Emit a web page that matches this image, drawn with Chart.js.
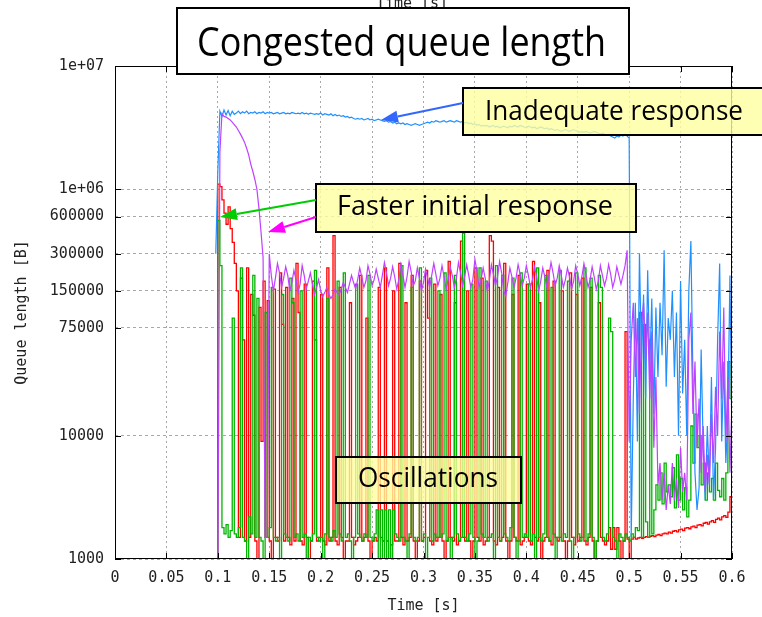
<!DOCTYPE html>
<html lang="en">
<head>
<meta charset="UTF-8" />
<title>Congested queue length</title>
<script src="https://cdn.jsdelivr.net/npm/chart.js@4.4.0/dist/chart.umd.min.js"></script>
<style>
  html, body { margin: 0; padding: 0; background: #fff; }
  #wrap { width: 762px; height: 617px; }
</style>
</head>
<body>
<div id="wrap"><canvas id="queueChart" width="762" height="617"></canvas></div>
<script>
// sampling of the traces: one point every 2 ms starting at t = 0.098 s
const tStart = 0.098;
const tStep = 0.002;

// axis ticks
const xTickValues = [0, 0.05, 0.1, 0.15, 0.2, 0.25, 0.3, 0.35, 0.4, 0.45, 0.5, 0.55, 0.6];
const xTickLabels = ['0', '0.05', '0.1', '0.15', '0.2', '0.25', '0.3', '0.35', '0.4', '0.45', '0.5', '0.55', '0.6'];
const yTickValues = [1000, 10000, 75000, 150000, 300000, 600000, 1000000, 10000000];
const yTickLabels = ['1000', '10000', '75000', '150000', '300000', '600000', '1e+06', '1e+07'];

// queue length [B] (values below 1000 fall under the axis)
const blueQ = [
  300000, 1400000, 4300000, 3900000, 4400000, 4000000, 4350000, 3950000, 4300000, 4050000, // 0.098
  4150000, 4300000, 4100000, 4250000, 4150000, 4300000, 4100000, 4200000, 4150000, 4250000, // 0.118
  4100000, 4200000, 4150000, 4250000, 4100000, 4200000, 4150000, 4200000, 4100000, 4150000, // 0.138
  4200000, 4100000, 4150000, 4200000, 4100000, 4150000, 4100000, 4200000, 4150000, 4100000, // 0.158
  4150000, 4100000, 4200000, 4100000, 4150000, 4050000, 4150000, 4100000, 4050000, 4100000, // 0.178
  4050000, 4150000, 4000000, 4100000, 4050000, 4000000, 4100000, 3950000, 4050000, 3950000, // 0.198
  4000000, 3900000, 3950000, 3850000, 3900000, 3800000, 3850000, 3750000, 3700000, 3750000, // 0.218
  3700000, 3750000, 3650000, 3700000, 3750000, 3650000, 3700000, 3600000, 3650000, 3700000, // 0.238
  3650000, 3600000, 3550000, 3600000, 3500000, 3550000, 3450000, 3500000, 3400000, 3450000, // 0.258
  3400000, 3450000, 3350000, 3400000, 3350000, 3300000, 3350000, 3400000, 3350000, 3300000, // 0.278
  3350000, 3400000, 3450000, 3500000, 3450000, 3550000, 3500000, 3600000, 3550000, 3500000, // 0.298
  3550000, 3600000, 3500000, 3550000, 3600000, 3550000, 3500000, 3600000, 3550000, 3500000, // 0.318
  3550000, 3450000, 3500000, 3400000, 3450000, 3350000, 3400000, 3300000, 3350000, 3250000, // 0.338
  3300000, 3250000, 3300000, 3200000, 3250000, 3300000, 3200000, 3250000, 3150000, 3200000, // 0.358
  3250000, 3200000, 3150000, 3250000, 3200000, 3300000, 3250000, 3200000, 3300000, 3250000, // 0.378
  3200000, 3150000, 3250000, 3200000, 3150000, 3200000, 3100000, 3150000, 3200000, 3150000, // 0.398
  3100000, 3150000, 3050000, 3100000, 3050000, 3000000, 3050000, 3000000, 2950000, 3000000, // 0.418
  3050000, 3000000, 2950000, 3000000, 3050000, 3000000, 2950000, 2900000, 2950000, 2900000, // 0.438
  2950000, 2900000, 2850000, 2900000, 2950000, 2900000, 2850000, 2800000, 2850000, 2800000, // 0.458
  2750000, 2800000, 2700000, 2650000, 2600000, 2700000, 2650000, 2750000, 2700000, 2800000, // 0.478
  2700000, 2600000, 1500, 20000, 120000, 9000, 300000, 40000, 140000, 20000,               // 0.498
  220000, 35000, 130000, 15000, 110000, 30000, 120000, 45000, 320000, 25000,               // 0.518
  90000, 60000, 150000, 30000, 100000, 10000, 180000, 22000, 60000, 10000,                 // 0.538
  150000, 380000, 30000, 5000, 2500, 3800, 50000, 8000, 3000, 12000,                       // 0.558
  4000, 30000, 3000, 8000, 60000, 250000, 9000, 40000, 6000, 15000,                        // 0.578
  200000, 8000                                                                             // 0.598
];

const purpleQ = [
  600, 600, 2000000, 4100000, 3900000, 3850000, 3750000, 3650000, 3500000, 3350000,         // 0.098
  3200000, 3000000, 2800000, 2600000, 2400000, 2150000, 1900000, 1600000, 1400000, 1200000, // 0.118
  1000000, 700000, 450000, 280000, 1500, 1500, 300000, 200000, 150000, 190000,             // 0.138
  250000, 210000, 160000, 190000, 235000, 200000, 150000, 175000, 220000, 185000,          // 0.158
  145000, 170000, 240000, 200000, 155000, 180000, 210000, 170000, 140000, 160000,          // 0.178
  185000, 150000, 135000, 145000, 160000, 140000, 130000, 140000, 155000, 145000,          // 0.198
  140000, 155000, 175000, 160000, 145000, 170000, 200000, 175000, 155000, 185000,          // 0.218
  230000, 195000, 160000, 180000, 240000, 205000, 165000, 185000, 225000, 190000,          // 0.238
  160000, 200000, 255000, 210000, 165000, 190000, 235000, 195000, 155000, 185000,          // 0.258
  245000, 200000, 160000, 195000, 260000, 215000, 165000, 180000, 230000, 190000,          // 0.278
  150000, 175000, 225000, 190000, 160000, 200000, 250000, 205000, 165000, 190000,          // 0.298
  240000, 195000, 155000, 185000, 235000, 200000, 160000, 190000, 255000, 210000,          // 0.318
  165000, 195000, 245000, 200000, 160000, 185000, 270000, 215000, 160000, 185000,          // 0.338
  230000, 190000, 150000, 180000, 245000, 205000, 165000, 195000, 260000, 210000,          // 0.358
  150000, 135000, 175000, 230000, 195000, 160000, 190000, 245000, 205000, 165000,          // 0.378
  190000, 240000, 200000, 160000, 185000, 235000, 195000, 150000, 180000, 230000,          // 0.398
  195000, 160000, 200000, 255000, 210000, 165000, 190000, 240000, 200000, 160000,          // 0.418
  185000, 230000, 195000, 155000, 180000, 240000, 205000, 165000, 195000, 250000,          // 0.438
  205000, 160000, 185000, 235000, 195000, 155000, 180000, 240000, 200000, 165000,          // 0.458
  190000, 245000, 205000, 160000, 185000, 235000, 200000, 170000, 200000, 240000,          // 0.478
  320000, 9000, 60000, 120000, 30000, 90000, 15000, 80000, 120000, 40000,                  // 0.498
  100000, 20000, 70000, 8000, 30000, 4000, 6000, 3000, 5000, 2500,                         // 0.518
  4000, 2800, 6000, 3000, 4500, 2600, 8000, 3500, 5000, 3000,                              // 0.538
  60000, 100000, 15000, 40000, 8000, 20000, 5000, 12000, 3500, 7000,                       // 0.558
  4000, 15000, 6000, 25000, 10000, 70000, 20000, 110000, 9000, 30000,                      // 0.578
  5000, 20000                                                                              // 0.598
];

const redQ = [
  600, 1100000, 1050000, 820000, 640000, 520000, 720000, 480000, 370000, 250000,           // 0.098
  150000, 1500, 190000, 60000, 1400, 230000, 1500, 140000, 95000, 1400,                    // 0.118
  600, 110000, 9000, 180000, 1500, 125000, 1400, 600, 155000, 1500,                        // 0.138
  1400, 210000, 80000, 1400, 160000, 1500, 1300, 130000, 1400, 250000,                     // 0.158
  100000, 1400, 1300, 170000, 1500, 600, 1400, 180000, 60000, 1400,                        // 0.178
  1500, 140000, 1400, 1300, 230000, 1400, 1500, 420000, 1400, 1300,                        // 0.198
  160000, 1500, 600, 1400, 1400, 120000, 1500, 1300, 1400, 1500,                           // 0.218
  200000, 1400, 1500, 90000, 1400, 600, 1400, 1500, 1400, 160000,                          // 0.238
  1500, 1400, 230000, 1400, 600, 1300, 150000, 1400, 1400, 250000,                         // 0.258
  1500, 1300, 120000, 1400, 1500, 200000, 1400, 600, 1400, 180000,                         // 0.278
  1400, 1500, 220000, 90000, 1400, 1300, 170000, 1400, 1500, 140000,                       // 0.298
  1400, 600, 1400, 260000, 1500, 1400, 120000, 1300, 1400, 380000,                         // 0.318
  1500, 1400, 150000, 1400, 600, 1400, 230000, 1500, 1400, 190000,                         // 0.338
  1300, 1400, 1500, 420000, 380000, 1400, 1300, 160000, 1400, 1500,                        // 0.358
  250000, 1400, 600, 1400, 140000, 1500, 1400, 200000, 1300, 1400,                         // 0.378
  1500, 170000, 1400, 1300, 260000, 1500, 1400, 120000, 600, 1400,                         // 0.398
  1500, 220000, 1400, 1300, 180000, 1500, 1400, 1500, 150000, 1400,                        // 0.418
  600, 1400, 210000, 1500, 1300, 140000, 1400, 1500, 190000, 1400,                         // 0.438
  1300, 1500, 160000, 1400, 600, 1400, 120000, 1500, 1400, 1300,                           // 0.458
  1400, 1800, 1200, 1800, 1200, 1800, 1400, 600, 1400, 70000,                              // 0.478
  1450, 600, 1450, 1500, 1450, 1480, 1500, 1470, 1500, 1520,                               // 0.498
  1500, 1530, 1550, 1520, 1560, 1580, 1550, 1600, 1620, 1600,                              // 0.518
  1650, 1620, 1680, 1700, 1660, 1720, 1750, 1700, 1780, 1800,                              // 0.538
  1760, 1820, 1850, 1800, 1880, 1900, 1860, 1950, 1980, 1920,                              // 0.558
  2000, 2050, 1980, 2100, 2150, 2080, 2200, 2250, 2180, 2400,                              // 0.578
  3200, 2500                                                                               // 0.598
];

const greenQ = [
  600, 560000, 240000, 1800, 1600, 1900, 1500, 1700, 90000, 1600,                          // 0.098
  1500, 1800, 230000, 1500, 1400, 600, 2200, 1600, 200000, 1500,                           // 0.118
  130000, 1500, 1400, 600, 100000, 1500, 1800, 160000, 1500, 1400,                         // 0.138
  1500, 600, 140000, 1600, 1500, 1400, 190000, 120000, 1500, 1600,                         // 0.158
  1400, 150000, 1500, 1600, 600, 1500, 1400, 1600, 220000, 1500,                           // 0.178
  1400, 1500, 600, 1600, 130000, 1500, 1400, 1700, 1500, 180000,                           // 0.198
  1600, 1400, 210000, 1500, 1600, 1400, 600, 1500, 170000, 1600,                           // 0.218
  1500, 1400, 1600, 1500, 200000, 1500, 1400, 1600, 2500, 600,                             // 0.238
  2500, 600, 2500, 600, 2500, 600, 2500, 1600, 1500, 1400,                                 // 0.258
  240000, 1500, 1400, 600, 1600, 160000, 1500, 1400, 1500, 230000,                         // 0.278
  1400, 1600, 600, 1500, 190000, 1400, 1600, 1500, 150000, 1500,                           // 0.298
  1600, 210000, 1400, 1500, 600, 1500, 200000, 1600, 1400, 1500,                           // 0.318
  440000, 1500, 1400, 1600, 170000, 1500, 600, 1400, 230000, 1600,                         // 0.338
  1500, 180000, 1400, 1500, 1600, 600, 240000, 1500, 1400, 200000,                         // 0.358
  1600, 1500, 1400, 1800, 190000, 1500, 600, 1400, 210000, 1500,                           // 0.378
  1600, 1500, 170000, 1400, 1600, 600, 230000, 1500, 1400, 1600,                           // 0.398
  200000, 1500, 1400, 160000, 1600, 600, 1500, 220000, 1400, 1600,                         // 0.418
  1500, 180000, 1400, 600, 1500, 210000, 1600, 1400, 1500, 230000,                         // 0.438
  1400, 1600, 190000, 1500, 600, 1400, 200000, 160000, 1500, 1400,                         // 0.458
  1600, 90000, 70000, 1500, 1400, 600, 1600, 1500, 1400, 1600,                             // 0.478
  1500, 1400, 1600, 1500, 1800, 1700, 100000, 1500, 80000, 2000,                           // 0.498
  1500, 60000, 1600, 2500, 4000, 3000, 5000, 2800, 6000, 3500,                             // 0.518
  4000, 3200, 5500, 2600, 7000, 3000, 4500, 2500, 3800, 2200,                              // 0.538
  3000, 12000, 6000, 15000, 8000, 10000, 4000, 6000, 3000, 5000,                           // 0.558
  3500, 4500, 3000, 6000, 3600, 3200, 4500, 3000, 5000, 40000,                             // 0.578
  20000, 60000                                                                             // 0.598
];

const times = redQ.map((_, i) => +(tStart + i * tStep).toFixed(3));
const toPoints = q => q.map((v, i) => ({ x: times[i], y: v }));

const tickFont = { family: '"DejaVu Sans Mono", monospace', size: 15 };
const noteFont = '"Open Sans", "DejaVu Sans", sans-serif';

function drawBox(ctx, x0, y0, x1, y1, fill) {
  ctx.fillStyle = fill;
  ctx.fillRect(x0, y0, x1 - x0, y1 - y0);
  ctx.lineWidth = 2;
  ctx.strokeStyle = '#000';
  ctx.strokeRect(x0, y0, x1 - x0, y1 - y0);
}

// text stretched to the width it has in the original figure
function drawNote(ctx, text, left, baseline, width, size) {
  ctx.save();
  ctx.font = size + 'px ' + noteFont;
  const w = ctx.measureText(text).width;
  ctx.translate(left, baseline);
  ctx.scale(width / w, 1);
  ctx.fillStyle = '#000';
  ctx.textAlign = 'left';
  ctx.textBaseline = 'alphabetic';
  ctx.fillText(text, 0, 0);
  ctx.restore();
}

function drawArrow(ctx, x0, y0, x1, y1, color) {
  const ang = Math.atan2(y1 - y0, x1 - x0);
  const len = 17, half = 6;
  const bx = x1 - len * Math.cos(ang), by = y1 - len * Math.sin(ang);
  ctx.strokeStyle = color;
  ctx.fillStyle = color;
  ctx.lineWidth = 2;
  ctx.beginPath();
  ctx.moveTo(x0, y0);
  ctx.lineTo(bx, by);
  ctx.stroke();
  ctx.beginPath();
  ctx.moveTo(x1, y1);
  ctx.lineTo(bx + half * Math.sin(ang), by - half * Math.cos(ang));
  ctx.lineTo(bx - half * Math.sin(ang), by + half * Math.cos(ang));
  ctx.closePath();
  ctx.fill();
}

const decorPlugin = {
  id: 'decor',
  afterDatasetsDraw(chart) {
    const { ctx, chartArea: a, scales: { x, y } } = chart;
    ctx.save();
    ctx.strokeStyle = '#000';
    ctx.lineWidth = 1;
    ctx.beginPath();
    xTickValues.forEach(v => {
      const px = Math.round(x.getPixelForValue(v)) + 0.5;
      ctx.moveTo(px, a.bottom); ctx.lineTo(px, a.bottom - 6);
      ctx.moveTo(px, a.top); ctx.lineTo(px, a.top + 6);
    });
    yTickValues.forEach(v => {
      const py = Math.round(y.getPixelForValue(v)) + 0.5;
      ctx.moveTo(a.left, py); ctx.lineTo(a.left + 6, py);
      ctx.moveTo(a.right, py); ctx.lineTo(a.right - 6, py);
    });
    ctx.stroke();
    ctx.strokeRect(Math.round(a.left) + 0.5, Math.round(a.top) + 0.5,
      Math.round(a.width) - 1, Math.round(a.height) - 1);
    ctx.restore();
  },
  afterDraw(chart) {
    const { ctx } = chart;
    ctx.save();
    // x2 axis label, mostly hidden behind the title box
    ctx.font = tickFont.size + 'px ' + tickFont.family;
    ctx.fillStyle = '#222';
    ctx.textAlign = 'center';
    ctx.textBaseline = 'middle';
    ctx.fillText('Time [s]', 412, 4);

    drawBox(ctx, 177, 8, 629, 74, '#ffffff');
    drawNote(ctx, 'Congested queue length', 197, 56, 409, 40);

    drawBox(ctx, 463, 88, 780, 135, 'rgba(255, 255, 160, 0.8)');
    drawNote(ctx, 'Inadequate response', 485, 120, 258, 28);
    drawArrow(ctx, 463, 103, 381, 120, '#3366ff');

    drawBox(ctx, 316, 184, 636, 232, 'rgba(255, 255, 160, 0.8)');
    drawNote(ctx, 'Faster initial response', 337, 215, 276, 28);
    drawArrow(ctx, 316, 200, 220, 217, '#00cc00');
    drawArrow(ctx, 316, 217, 268, 232, '#ff00ff');

    drawBox(ctx, 336, 457, 521, 503, 'rgba(255, 255, 160, 0.8)');
    drawNote(ctx, 'Oscillations', 358, 487, 140, 28);
    ctx.restore();
  }
};

new Chart(document.getElementById('queueChart'), {
  type: 'line',
  data: {
    datasets: [
      { label: 'purple', data: toPoints(purpleQ), borderColor: '#c040ff', borderWidth: 1.2 },
      { label: 'blue', data: toPoints(blueQ), borderColor: '#2090ff', borderWidth: 1.2 },
      { label: 'green', data: toPoints(greenQ), borderColor: '#00b400', borderWidth: 1.3, stepped: true },
      { label: 'red', data: toPoints(redQ), borderColor: '#ff0000', borderWidth: 1.3, stepped: true }
    ]
  },
  options: {
    responsive: false,
    animation: false,
    devicePixelRatio: 1,
    layout: { padding: { left: 0, right: 30, top: 66, bottom: 0 } },
    elements: { point: { radius: 0 }, line: { tension: 0 } },
    plugins: { legend: { display: false }, tooltip: { enabled: false } },
    scales: {
      x: {
        type: 'linear',
        min: 0,
        max: 0.6,
        afterBuildTicks: s => { s.ticks = xTickValues.map(v => ({ value: v })); },
        afterFit: s => { s.height = 58; },
        ticks: {
          callback: v => xTickLabels[xTickValues.indexOf(v)],
          font: tickFont, color: '#222', padding: 10, maxRotation: 0, autoSkip: false
        },
        grid: { color: '#a8a8a8', drawTicks: false, lineWidth: 1 },
        border: { display: false, dash: [2, 3] },
        title: { display: true, text: 'Time [s]', font: tickFont, color: '#222', padding: { top: 0, bottom: 2 } }
      },
      y: {
        type: 'logarithmic',
        min: 1000,
        max: 10000000,
        afterBuildTicks: s => { s.ticks = yTickValues.map(v => ({ value: v })); },
        afterFit: s => { s.width = 115; },
        ticks: {
          callback: v => yTickLabels[yTickValues.indexOf(v)],
          font: tickFont, color: '#222', padding: 11, autoSkip: false
        },
        grid: { color: '#a8a8a8', drawTicks: false, lineWidth: 1 },
        border: { display: false, dash: [3, 3] },
        title: { display: true, text: 'Queue length [B]', font: tickFont, color: '#222', padding: { top: 13, bottom: 0 } }
      }
    }
  },
  plugins: [decorPlugin]
});
</script>
</body>
</html>
